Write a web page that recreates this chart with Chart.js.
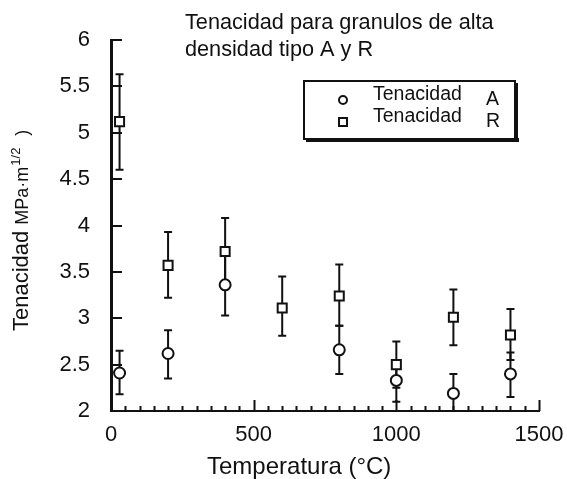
<!DOCTYPE html>
<html>
<head>
<meta charset="utf-8">
<script src="https://cdn.jsdelivr.net/npm/chart.js@4.4.1/dist/chart.umd.min.js"></script>
<style>
  html, body { margin: 0; padding: 0; background: #fff; }
</style>
</head>
<body>
<canvas id="myChart" width="567" height="479"></canvas>
<script>
// Tenacidad (MPa·m^1/2) vs temperatura, granulos tipo A y R
var tempA = [30, 200, 400, 800, 1000, 1200, 1400];
var tenA = [2.41, 2.62, 3.36, 2.66, 2.33, 2.19, 2.40];
var tenAHigh = [2.65, 2.87, 3.69, 2.92, 2.48, 2.40, 2.63];
var tenALow = [2.18, 2.35, 3.03, 2.40, 2.10, 2.00, 2.15];

var tempR = [30, 200, 400, 600, 800, 1000, 1200, 1400];
var tenR = [5.12, 3.57, 3.72, 3.11, 3.24, 2.50, 3.01, 2.82];
var tenRHigh = [5.63, 3.93, 4.08, 3.45, 3.58, 2.75, 3.31, 3.10];
var tenRLow = [4.60, 3.22, 3.36, 2.81, 2.92, 2.25, 2.71, 2.55];

var xTicks = [0, 500, 1000, 1500];
var yTicks = [2, 2.5, 3, 3.5, 4, 4.5, 5, 5.5, 6];
var seriesNames = ["Tenacidad A", "Tenacidad R"];
var titleLines = ["Tenacidad para granulos de alta", "densidad tipo A y R"];
var xTitle = "Temperatura (°C)";
var yTitle = "Tenacidad";
var yUnit = ["MPa·m", "1/2", ")"];

var FONT = "'Liberation Sans', Arial, sans-serif";
var INK = "#111";

function points(xs, ys, hi, lo) {
    return xs.map(function (x, i) {
        return {x: x, y: ys[i], hi: hi[i], lo: lo[i]};
    });
}

// vertical error bars with caps, under the markers
var errorBars = {
    id: "errorBars",
    beforeDatasetsDraw: function (chart) {
        var ctx = chart.ctx, xs = chart.scales.x, ys = chart.scales.y;
        ctx.save();
        ctx.strokeStyle = INK;
        ctx.lineWidth = 2;
        chart.data.datasets.forEach(function (ds) {
            ds.data.forEach(function (p) {
                var px = xs.getPixelForValue(p.x);
                var top = ys.getPixelForValue(p.hi);
                var bot = ys.getPixelForValue(p.lo);
                ctx.beginPath();
                ctx.moveTo(px, top);
                ctx.lineTo(px, bot);
                ctx.moveTo(px - 4, top);
                ctx.lineTo(px + 4, top);
                ctx.moveTo(px - 4, bot);
                ctx.lineTo(px + 4, bot);
                ctx.stroke();
            });
        });
        ctx.restore();
    }
};

// inward tick marks on both axes
var innerTicks = {
    id: "innerTicks",
    afterDraw: function (chart) {
        var ctx = chart.ctx, xs = chart.scales.x, ys = chart.scales.y;
        var area = chart.chartArea;
        ctx.save();
        ctx.strokeStyle = INK;
        ctx.lineWidth = 2;
        ctx.beginPath();
        yTicks.forEach(function (v) {
            var py = Math.round(ys.getPixelForValue(v));
            ctx.moveTo(area.left, py);
            ctx.lineTo(area.left + 11, py);
        });
        for (var t = 50; t <= 1500; t += 50) {
            var px = Math.round(xs.getPixelForValue(t)) + 0.5;
            var len = (t % 500 === 0) ? 11 : 5;
            ctx.moveTo(px, area.bottom);
            ctx.lineTo(px, area.bottom - len);
        }
        ctx.stroke();
        ctx.restore();
    }
};

// title, axis titles and boxed legend
var labels = {
    id: "labels",
    afterDraw: function (chart) {
        var ctx = chart.ctx;
        ctx.save();
        ctx.fillStyle = INK;
        ctx.textBaseline = "alphabetic";
        ctx.textAlign = "left";

        ctx.font = "21.7px " + FONT;
        ctx.fillText(titleLines[0], 185, 29);
        ctx.fillText(titleLines[1], 185, 56);

        ctx.font = "24px " + FONT;
        ctx.fillText(xTitle, 207, 474);

        // rotated y title with smaller unit and superscript
        ctx.save();
        ctx.translate(28, 331);
        ctx.rotate(-Math.PI / 2);
        ctx.font = "22px " + FONT;
        ctx.fillText(yTitle, 0, 0);
        var off = ctx.measureText(yTitle).width + 6;
        ctx.font = "18px " + FONT;
        ctx.fillText(yUnit[0], off, 0);
        off += ctx.measureText(yUnit[0]).width + 1;
        ctx.font = "13px " + FONT;
        ctx.fillText(yUnit[1], off, -8);
        off += ctx.measureText(yUnit[1]).width + 12;
        ctx.font = "18px " + FONT;
        ctx.fillText(yUnit[2], off, 0);
        ctx.restore();

        // legend box with heavy bottom/right edge
        ctx.strokeStyle = INK;
        ctx.lineWidth = 2;
        ctx.strokeRect(304, 81, 211, 58);
        ctx.fillRect(306, 138, 213, 4);
        ctx.fillRect(514, 83, 4, 58);

        var markers = ["circle", "rect"];
        var rows = [101, 123];
        chart.data.datasets.forEach(function (ds, i) {
            var y = rows[i];
            ctx.lineWidth = 2;
            ctx.fillStyle = "#fff";
            ctx.beginPath();
            if (markers[i] === "circle") {
                ctx.arc(343, y - 1, 4, 0, Math.PI * 2);
            } else {
                ctx.rect(339, y - 5, 8, 8);
            }
            ctx.fill();
            ctx.stroke();
            ctx.fillStyle = INK;
            var parts = ds.label.split(" ");
            ctx.font = "19.5px " + FONT;
            ctx.fillText(parts[0], 373, y - 1);
            ctx.fillText(parts[1], 486, y + 4);
        });
        ctx.restore();
    }
};

function plainLabel(v) { return String(v); }

new Chart("myChart", {
    type: "scatter",
    data: {
        datasets: [{
            label: seriesNames[0],
            data: points(tempA, tenA, tenAHigh, tenALow),
            pointStyle: "circle",
            pointRadius: 5.5,
            pointBorderWidth: 2,
            borderColor: INK,
            backgroundColor: "#fff"
        }, {
            label: seriesNames[1],
            data: points(tempR, tenR, tenRHigh, tenRLow),
            pointStyle: "rect",
            pointRadius: 6.4,
            pointBorderWidth: 2,
            borderColor: INK,
            backgroundColor: "#fff"
        }]
    },
    options: {
        responsive: false,
        animation: false,
        devicePixelRatio: 1,
        layout: {padding: {top: 40, right: 28, left: 0, bottom: 0}},
        plugins: {
            legend: {display: false},
            title: {display: false},
            tooltip: {enabled: false}
        },
        scales: {
            x: {
                type: "linear",
                min: 0,
                max: 1500,
                afterFit: function (s) {
                    s.height = 68;
                    s.paddingLeft = 0;
                    s.paddingRight = 0;
                },
                afterBuildTicks: function (s) {
                    s.ticks = xTicks.map(function (v) { return {value: v}; });
                },
                grid: {drawOnChartArea: false, drawTicks: false},
                border: {display: true, color: INK, width: 2},
                ticks: {
                    color: INK,
                    padding: 11,
                    maxRotation: 0,
                    callback: plainLabel,
                    font: {family: FONT, size: 22}
                }
            },
            y: {
                min: 2,
                max: 6,
                afterFit: function (s) {
                    s.width = 111;
                    s.paddingTop = 0;
                    s.paddingBottom = 0;
                },
                afterBuildTicks: function (s) {
                    s.ticks = yTicks.map(function (v) { return {value: v}; });
                },
                grid: {drawOnChartArea: false, drawTicks: false},
                border: {display: true, color: INK, width: 3},
                ticks: {
                    color: INK,
                    padding: 21,
                    callback: plainLabel,
                    font: {family: FONT, size: 22}
                }
            }
        }
    },
    plugins: [errorBars, innerTicks, labels]
});
</script>
</body>
</html>
